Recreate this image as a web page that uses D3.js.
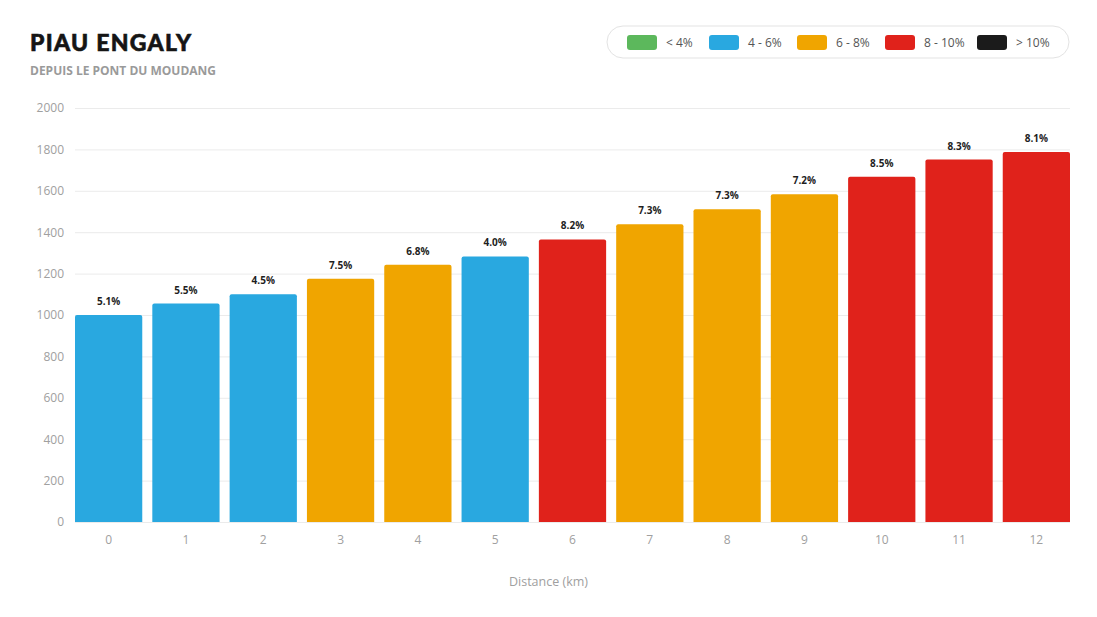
<!DOCTYPE html>
<html>
<head>
<meta charset="utf-8">
<script src="https://cdn.jsdelivr.net/npm/d3@7"></script>
<style>
  body { margin: 0; background: #fff; font-family: 'Open Sans', sans-serif; }
  svg { display: block; }
</style>
</head>
<body>
<div id="chart"></div>
<script>
var width = 1097;
var height = 617;
var margin = { top: 108, right: 27, bottom: 95, left: 75 };
var graphWidth = width - margin.left - margin.right;
var graphHeight = height - margin.top - margin.bottom;

// data
var distances = ['0', '1', '2', '3', '4', '5', '6', '7', '8', '9', '10', '11', '12'];
var altitudes = [1000, 1055, 1100, 1175, 1243, 1283, 1365, 1438, 1511, 1583, 1668, 1751, 1787];
var gradients = [5.1, 5.5, 4.5, 7.5, 6.8, 4.0, 8.2, 7.3, 7.3, 7.2, 8.5, 8.3, 8.1];
var yTicks = [0, 200, 400, 600, 800, 1000, 1200, 1400, 1600, 1800, 2000];
var legendLabels = ['< 4%', '4 - 6%', '6 - 8%', '8 - 10%', '> 10%'];
var legendColors = ['#5cb85c', '#29a8e0', '#f0a500', '#e0221b', '#1b1b1b'];

function setColor(g) {
  if (g < 4) return legendColors[0];
  if (g < 6) return legendColors[1];
  if (g < 8) return legendColors[2];
  if (g < 10) return legendColors[3];
  return legendColors[4];
}

var svg = d3.select('#chart').append('svg')
  .attr('width', width)
  .attr('height', height);

// title
svg.append('text')
  .attr('x', 30).attr('y', 51)
  .attr('font-family', 'Lato, sans-serif')
  .attr('font-weight', 900)
  .attr('font-size', 23)
  .attr('letter-spacing', 1.3)
  .attr('stroke', '#151515')
  .attr('stroke-width', 0.6)
  .attr('fill', '#151515')
  .text('PIAU ENGALY');
svg.append('text')
  .attr('x', 30).attr('y', 75)
  .attr('font-weight', 700)
  .attr('font-size', 12)
  .attr('fill', '#9a9a9a')
  .text('DEPUIS LE PONT DU MOUDANG');

// legend
var legend = svg.append('g').attr('class', 'legend');
legend.append('rect')
  .attr('x', 607).attr('y', 26)
  .attr('width', 462).attr('height', 32)
  .attr('rx', 16)
  .attr('fill', '#fff')
  .attr('stroke', '#e3e3e3');
var legendX = [627, 709, 797, 885, 977];
legendLabels.forEach(function (l, i) {
  legend.append('rect')
    .attr('x', legendX[i]).attr('y', 35)
    .attr('width', 30).attr('height', 15)
    .attr('rx', 3)
    .attr('fill', legendColors[i]);
  legend.append('text')
    .attr('x', legendX[i] + 39).attr('y', 46.5)
    .attr('font-size', 12)
    .attr('fill', '#555')
    .text(l);
});

var graph = svg.append('g')
  .attr('transform', 'translate(' + margin.left + ',' + margin.top + ')');

var x = d3.scaleBand()
  .range([0, graphWidth])
  .domain(distances)
  .paddingInner(0.13)
  .paddingOuter(0);

var y = d3.scaleLinear()
  .range([graphHeight, 0])
  .domain([0, 2000]);

// grid
var yGrid = graph.append('g').attr('class', 'y-grid')
  .call(d3.axisLeft(y).tickValues(yTicks).tickSize(-graphWidth).tickFormat(''));
yGrid.select('.domain').remove();
yGrid.selectAll('line').attr('stroke', '#ebebeb');

// y axis labels
var yAxisGroup = graph.append('g').attr('class', 'y-axis')
  .call(d3.axisLeft(y).tickValues(yTicks).tickSize(0).tickPadding(11).tickFormat(d3.format('d')));
yAxisGroup.select('.domain').remove();
yAxisGroup.selectAll('text')
  .attr('font-family', "'Open Sans', sans-serif")
  .attr('font-size', 12)
  .attr('fill', '#a0a0a0');

// bars
graph.selectAll('path.bar')
  .data(distances)
  .enter()
  .append('path')
  .attr('class', 'bar')
  .attr('d', function (d, i) {
    var x0 = x(d), w = x.bandwidth(), y0 = y(altitudes[i]), h = graphHeight - y0, r = 2;
    return 'M' + x0 + ',' + (y0 + h) + 'V' + (y0 + r) + 'Q' + x0 + ',' + y0 + ' ' + (x0 + r) + ',' + y0 +
      'H' + (x0 + w - r) + 'Q' + (x0 + w) + ',' + y0 + ' ' + (x0 + w) + ',' + (y0 + r) + 'V' + (y0 + h) + 'Z';
  })
  .attr('fill', function (d, i) { return setColor(gradients[i]); });

// bar labels
graph.selectAll('text.bar-label')
  .data(distances)
  .enter()
  .append('text')
  .attr('class', 'bar-label')
  .attr('x', function (d) { return x(d) + x.bandwidth() / 2; })
  .attr('y', function (d, i) { return y(altitudes[i]) - 10; })
  .attr('text-anchor', 'middle')
  .attr('font-size', 10)
  .attr('font-weight', 700)
  .attr('fill', '#1e1e1e')
  .text(function (d, i) { return gradients[i].toFixed(1) + '%'; });

// x axis
var xAxisGroup = graph.append('g').attr('class', 'x-axis')
  .attr('transform', 'translate(0,' + graphHeight + ')')
  .call(d3.axisBottom(x).tickSize(0).tickPadding(13));
xAxisGroup.select('.domain').remove();
xAxisGroup.selectAll('text')
  .attr('font-family', "'Open Sans', sans-serif")
  .attr('font-size', 12)
  .attr('fill', '#a0a0a0');

svg.append('text')
  .attr('x', width / 2)
  .attr('y', 586)
  .attr('text-anchor', 'middle')
  .attr('font-size', 12.5)
  .attr('fill', '#a0a0a0')
  .text('Distance (km)');
</script>
</body>
</html>
